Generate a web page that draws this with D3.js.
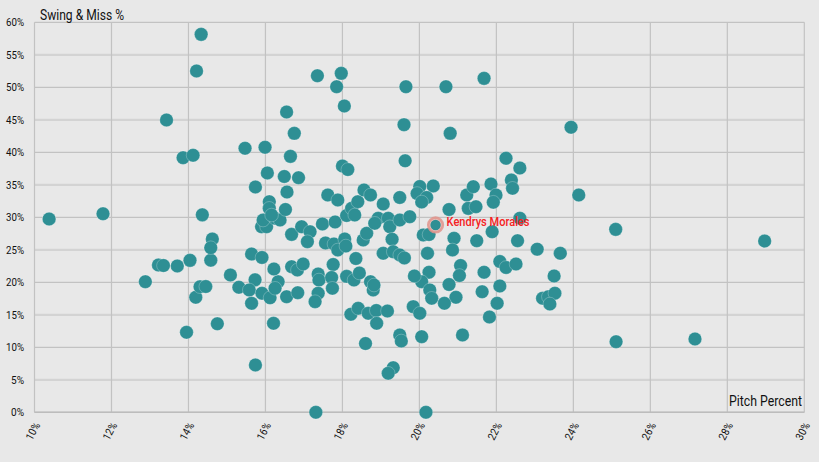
<!DOCTYPE html>
<html><head><meta charset="utf-8">
<script src="https://cdn.jsdelivr.net/npm/d3@7"></script>
<style>html,body{margin:0;padding:0;background:#e8e8e8;}svg{display:block;}</style>
</head><body><svg id="c" width="819" height="462"></svg>
<script>
const pitchPct = [10.38,11.78,12.88,13.22,13.35,13.71,14.04,13.43,13.86,14.12,14.21,14.33,14.36,13.95,14.75,14.58,14.19,14.30,14.45,14.62,14.58,15.09,15.31,15.73,15.58,15.91,16.12,15.64,16.33,16.25,16.55,16.84,16.68,16.83,16.98,17.37,17.39,17.37,17.29,17.76,17.72,17.74,18.11,18.30,18.22,18.41,16.22,16.21,15.74,15.64,15.91,15.47,15.99,16.75,16.65,16.55,16.05,16.49,16.86,15.74,16.56,18.00,18.14,17.35,17.97,17.85,18.05,19.65,20.69,21.68,19.60,19.63,20.80,23.94,24.14,25.10,28.97,25.11,27.16,17.31,20.17,16.10,16.10,15.90,16.03,15.94,16.25,16.38,16.16,16.52,16.68,16.94,17.16,17.09,17.62,17.88,17.48,17.81,18.11,18.24,18.40,18.56,18.73,17.56,17.78,17.88,18.06,18.09,18.35,18.44,18.54,18.63,18.73,18.80,18.82,18.67,18.88,18.89,19.17,18.60,19.49,19.53,19.84,20.01,20.06,21.12,19.32,19.19,19.06,19.49,18.32,18.93,18.84,19.19,19.23,19.49,19.75,19.29,19.06,19.32,19.49,19.61,20.21,20.01,20.36,19.94,20.19,20.06,20.77,21.23,21.40,21.27,21.47,21.86,21.99,21.92,22.39,22.42,22.25,22.61,22.61,20.10,20.25,20.90,20.86,21.49,21.89,22.55,23.06,23.66,20.25,20.06,20.27,20.32,19.87,21.07,21.04,20.77,20.95,20.65,21.68,21.63,22.09,22.02,21.82,22.09,22.25,22.51,23.50,23.20,23.35,23.52,23.39];
const swingMiss = [29.74,30.55,20.09,22.66,22.58,22.51,23.38,44.97,39.17,39.54,52.51,58.15,30.38,12.31,13.62,23.40,17.69,19.32,19.35,26.66,25.32,21.12,19.23,20.38,18.82,18.31,17.62,16.77,20.09,19.08,17.78,18.40,22.40,21.89,22.82,21.28,20.35,18.31,17.02,22.74,20.74,19.08,20.92,20.35,15.08,16.00,22.05,13.69,7.28,24.35,23.82,40.62,40.77,42.92,39.38,46.20,36.82,36.28,36.09,34.66,33.89,37.89,37.35,51.78,52.15,50.09,47.12,50.09,50.09,51.38,44.25,38.69,42.92,43.85,33.43,28.15,26.35,10.86,11.28,0,0,32.40,31.38,28.55,28.55,29.58,29.85,29.58,30.35,31.20,27.38,28.55,27.78,26.25,33.43,32.66,28.97,29.28,30.28,31.38,32.40,34.20,33.43,26.05,25.89,24.97,26.66,25.58,23.66,21.43,26.51,27.54,20.09,18.82,19.58,15.23,15.66,13.69,15.58,10.58,11.89,10.97,16.25,15.23,11.63,11.89,6.86,6.00,32.05,33.05,30.35,29.85,29.08,29.85,28.55,29.58,30.09,26.62,24.46,24.71,24.20,23.74,24.46,34.74,34.82,33.66,33.05,32.35,31.20,33.43,34.71,31.38,31.63,35.12,33.43,32.32,35.74,34.46,39.08,37.58,29.85,27.28,27.35,26.77,24.97,26.40,27.78,26.40,25.09,24.46,21.54,20.09,18.82,17.54,20.97,22.58,21.05,19.66,17.69,16.77,21.54,18.55,19.43,16.77,14.66,23.20,22.28,22.82,20.97,17.54,17.78,18.31,16.66];
const highlightName = ["Kendrys Morales"];
const highlightPitch = [20.42];
const highlightSwing = [28.82];
const xTicks = [10,12,14,16,18,20,22,24,26,28,30];
const yTicks = [0,5,10,15,20,25,30,35,40,45,50,55,60];
const xTitle = "Pitch Percent";
const yTitle = "Swing & Miss %";

const svg = d3.select("#c");
const W = 819, H = 462;
svg.append("rect").attr("width", W).attr("height", H).attr("fill", "#e8e8e8");
const x = d3.scaleLinear().domain([10, 30]).range([34.5, 804.3]);
const y = d3.scaleLinear().domain([0, 60]).range([412.3, 22.3]);
const FONT = "Roboto, 'Noto Sans', sans-serif";

const g = svg.append("g");
g.selectAll("line.h").data(yTicks).join("line")
  .attr("x1", x(10)).attr("x2", x(30))
  .attr("y1", d => y(d)).attr("y2", d => y(d))
  .attr("stroke", d => (d % 10 === 0) ? "#c2c2c2" : "#d3d3d3")
  .attr("stroke-width", d => (d % 10 === 0) ? 1.2 : 2.2);
g.selectAll("line.v").data(xTicks).join("line")
  .attr("x1", d => x(d)).attr("x2", d => x(d))
  .attr("y1", y(0)).attr("y2", y(60))
  .attr("stroke", "#c2c2c2").attr("stroke-width", 1.2);
g.append("line").attr("x1", x(10)).attr("x2", x(30)).attr("y1", y(0)).attr("y2", y(0))
  .attr("stroke", "#bcbcbc").attr("stroke-width", 1.5);

svg.append("g").selectAll("text").data(yTicks).join("text")
  .attr("x", 24).attr("y", d => y(d)).attr("dy", "0.35em")
  .attr("text-anchor", "end")
  .attr("font-family", FONT).attr("font-size", 11).attr("fill", "#111")
  .attr("textLength", d => String(d).length * 5 + 8).attr("lengthAdjust", "spacingAndGlyphs")
  .text(d => d + "%");

svg.append("g").selectAll("text").data(xTicks).join("text")
  .attr("transform", d => `translate(${x(d) + 6},${425}) rotate(-62)`)
  .attr("text-anchor", "end")
  .attr("font-family", FONT).attr("font-size", 11).attr("fill", "#111")
  .attr("textLength", d => String(d).length * 5 + 8).attr("lengthAdjust", "spacingAndGlyphs")
  .text(d => d + "%");

svg.append("text").attr("x", 40).attr("y", 19.5)
  .attr("font-family", FONT).attr("font-size", 14).attr("fill", "#111")
  .attr("textLength", 84).attr("lengthAdjust", "spacingAndGlyphs").text(yTitle);
svg.append("text").attr("x", 802).attr("y", 406).attr("text-anchor", "end")
  .attr("font-family", FONT).attr("font-size", 14).attr("fill", "#111")
  .attr("textLength", 73).attr("lengthAdjust", "spacingAndGlyphs").text(xTitle);

const pts = pitchPct.map((p, i) => ({p, s: swingMiss[i]}));
svg.append("g").selectAll("circle").data(pts).join("circle")
  .attr("cx", d => x(d.p)).attr("cy", d => y(d.s)).attr("r", 6.8)
  .attr("fill", "#2e8f94")
  .attr("stroke", "rgba(255,255,255,0.35)").attr("stroke-width", 0.7);

const hl = highlightName.map((n, i) => ({n, p: highlightPitch[i], s: highlightSwing[i]}));
const hg = svg.append("g");
hg.selectAll("circle.ring").data(hl).join("circle")
  .attr("cx", d => x(d.p)).attr("cy", d => y(d.s)).attr("r", 7.3)
  .attr("fill", "#e9c6c2").attr("stroke", "#e0948c").attr("stroke-width", 2.6).attr("stroke-opacity", 0.85);
hg.selectAll("circle.dot").data(hl).join("circle")
  .attr("cx", d => x(d.p)).attr("cy", d => y(d.s)).attr("r", 5.2)
  .attr("fill", "#2e8f94");
hg.selectAll("text").data(hl).join("text")
  .attr("x", d => x(d.p) + 11).attr("y", d => y(d.s) + 1.5)
  .attr("font-family", FONT).attr("font-size", 13.5).attr("font-weight", 500).attr("fill", "#f52222")
  .attr("textLength", 83).attr("lengthAdjust", "spacingAndGlyphs")
  .text(d => d.n);
</script>
</body></html>
